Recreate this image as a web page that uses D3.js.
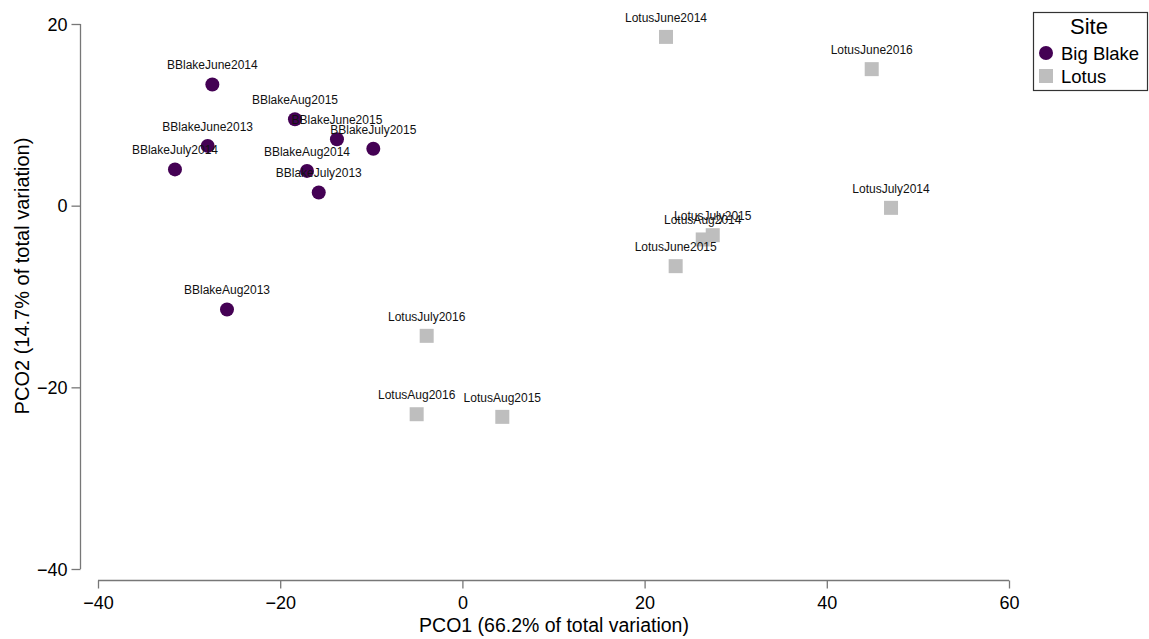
<!DOCTYPE html>
<html><head><meta charset="utf-8">
<script src="https://cdn.jsdelivr.net/npm/d3@7"></script>
<style>
body{margin:0;background:#fff;}
text{font-family:"Liberation Sans",Arial,sans-serif;}
</style></head>
<body><svg id="c" width="1149" height="639"></svg>
<script>
const bbNames = ["BBlakeJune2014","BBlakeAug2015","BBlakeJune2013","BBlakeJuly2014","BBlakeJune2015","BBlakeJuly2015","BBlakeAug2014","BBlakeJuly2013","BBlakeAug2013"];
const bbX = [-27.45,-18.38,-27.96,-31.55,-13.77,-9.78,-17.06,-15.77,-25.84];
const bbY = [13.34,9.52,6.58,3.99,7.32,6.26,3.83,1.45,-11.43];
const loNames = ["LotusJune2014","LotusJune2016","LotusJuly2014","LotusJuly2015","LotusAug2014","LotusJune2015","LotusJuly2016","LotusAug2016","LotusAug2015"];
const loX = [22.35,44.93,47.05,27.48,26.38,23.41,-3.92,-5.02,4.38];
const loY = [18.58,15.03,-0.24,-3.25,-3.72,-6.66,-14.33,-22.96,-23.25];
const xTicks = [-40,-20,0,20,40,60];
const yTicks = [-40,-20,0,20];
const sites = ["Big Blake","Lotus"];
const siteColors = ["#440154","#bebebe"];

const svg = d3.select("#c");
const x = d3.scaleLinear().domain([-40,60]).range([98,1009]);
const y = d3.scaleLinear().domain([-40,20]).range([569,24]);
const axisCol = "#777";

const gx = svg.append("g").attr("transform","translate(0,580.5)")
  .call(d3.axisBottom(x).tickValues(xTicks).tickSize(8).tickSizeOuter(8).tickFormat(d3.format("d")));
const gy = svg.append("g").attr("transform","translate(80.5,0)")
  .call(d3.axisLeft(y).tickValues(yTicks).tickSize(9).tickSizeOuter(9).tickFormat(d3.format("d")));
[gx,gy].forEach(g=>{
  g.selectAll("path,line").attr("stroke",axisCol).attr("stroke-width",1.3);
  g.selectAll("text").attr("fill","#000").style("font-size","18px").style("font-family","Liberation Sans, Arial, sans-serif");
});
gx.selectAll("text").attr("dy","0.95em");
gy.selectAll("text").attr("x",-13).attr("dy","0.35em");
gx.select(".domain").remove();
gx.append("line").attr("x1",x(-40)).attr("x2",x(60)).attr("stroke",axisCol).attr("stroke-width",1.3);
gy.select(".domain").remove();
gy.append("line").attr("y1",y(-40)).attr("y2",y(20)).attr("stroke",axisCol).attr("stroke-width",1.3);

svg.append("text").attr("x",554).attr("y",632).attr("text-anchor","middle")
  .style("font-size","19.5px").text("PCO1 (66.2% of total variation)");
svg.append("text").attr("transform","translate(29,276) rotate(-90)").attr("text-anchor","middle")
  .style("font-size","20px").text("PCO2 (14.7% of total variation)");

const bb = bbNames.map((n,i)=>({n,x:bbX[i],y:bbY[i]}));
const lo = loNames.map((n,i)=>({n,x:loX[i],y:loY[i]}));

svg.append("g").selectAll("circle").data(bb).join("circle")
  .attr("cx",d=>x(d.x)).attr("cy",d=>y(d.y)).attr("r",7).attr("fill",siteColors[0]);
svg.append("g").selectAll("rect").data(lo).join("rect")
  .attr("x",d=>x(d.x)-7).attr("y",d=>y(d.y)-7).attr("width",14).attr("height",14).attr("fill",siteColors[1]);

const all = bb.concat(lo);
svg.append("g").selectAll("text").data(all).join("text")
  .attr("x",d=>x(d.x)).attr("y",d=>y(d.y)-15).attr("text-anchor","middle")
  .style("font-size","12px").attr("fill","#111").text(d=>d.n);

// legend
const lg = svg.append("g");
lg.append("rect").attr("x",1033.5).attr("y",12.5).attr("width",114).attr("height",78)
  .attr("fill","#fff").attr("stroke","#333").attr("stroke-width",1.2);
lg.append("text").attr("x",1089).attr("y",34).attr("text-anchor","middle").style("font-size","22px").text("Site");
lg.append("circle").attr("cx",1046).attr("cy",53).attr("r",7).attr("fill",siteColors[0]);
lg.append("text").attr("x",1061).attr("y",60).style("font-size","18.5px").text(sites[0]);
lg.append("rect").attr("x",1039).attr("y",69).attr("width",14).attr("height",14).attr("fill",siteColors[1]);
lg.append("text").attr("x",1061).attr("y",83).style("font-size","18.5px").text(sites[1]);
</script></body></html>
